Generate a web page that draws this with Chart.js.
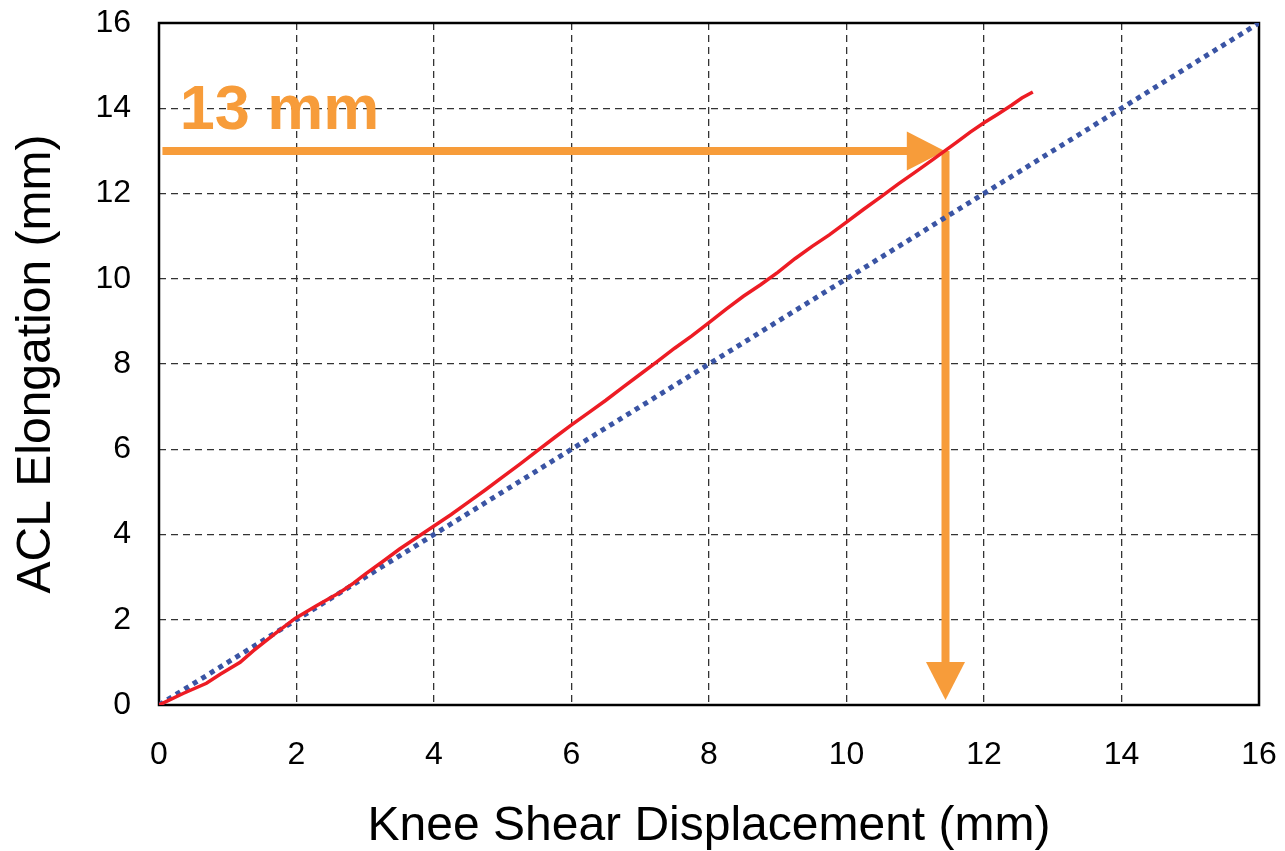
<!DOCTYPE html>
<html>
<head>
<meta charset="utf-8">
<script src="https://cdn.jsdelivr.net/npm/chart.js@4.4.1/dist/chart.umd.min.js"></script>
<style>
  html, body { margin: 0; padding: 0; background: #fff; }
  #wrap { width: 1285px; height: 851px; }
</style>
</head>
<body>
<div id="wrap"><canvas id="aclChart"></canvas></div>
<script>
const shearX = [0, 0.35, 0.69, 0.89, 1.18, 1.37, 1.66, 1.98, 2.29, 2.63, 2.83, 3.0, 3.25, 3.5, 3.75, 4.0, 4.25, 4.5, 4.75, 5.0, 5.25, 5.5, 5.75, 6.0, 6.25, 6.5, 6.75, 7.0, 7.25, 7.5, 7.75, 8.0, 8.25, 8.5, 8.75, 9.0, 9.25, 9.5, 9.75, 10.0, 10.25, 10.5, 10.75, 11.0, 11.25, 11.43, 11.6, 11.8, 12.0, 12.2, 12.4, 12.55, 12.71];
const elongY = [0, 0.27, 0.51, 0.72, 1.0, 1.27, 1.64, 2.03, 2.33, 2.64, 2.86, 3.07, 3.36, 3.66, 3.93, 4.2, 4.47, 4.76, 5.05, 5.35, 5.65, 5.96, 6.27, 6.57, 6.86, 7.15, 7.46, 7.76, 8.06, 8.37, 8.66, 8.97, 9.29, 9.59, 9.86, 10.15, 10.47, 10.76, 11.03, 11.33, 11.63, 11.92, 12.22, 12.5, 12.79, 13.0, 13.2, 13.44, 13.66, 13.86, 14.07, 14.24, 14.38];

// 1:1 reference line
const unityX = [0, 16];
const unityY = [0, 16];

// annotation arrows (data units)
const arrowHX = [0.05, 11.43];
const arrowHY = [13, 13];
const arrowVX = [11.44, 11.44];
const arrowVY = [13, 0.12];
const noteText = '13 mm';
const notePos = [0.3, 13.51];

const FONT = '"Liberation Sans", Arial, sans-serif';
const ORANGE = '#f79c3a';

function toPoints(xs, ys) {
    return xs.map((v, i) => ({ x: v, y: ys[i] }));
}

function drawArrow(ctx, x1, y1, x2, y2) {
    const ang = Math.atan2(y2 - y1, x2 - x1);
    const headLen = 38, headW = 39;
    const bx = x2 - headLen * Math.cos(ang);
    const by = y2 - headLen * Math.sin(ang);
    ctx.lineWidth = 8;
    ctx.beginPath();
    ctx.moveTo(x1, y1);
    ctx.lineTo(bx + Math.cos(ang), by + Math.sin(ang));
    ctx.stroke();
    ctx.beginPath();
    ctx.moveTo(x2, y2);
    ctx.lineTo(bx + headW / 2 * Math.sin(ang), by - headW / 2 * Math.cos(ang));
    ctx.lineTo(bx - headW / 2 * Math.sin(ang), by + headW / 2 * Math.cos(ang));
    ctx.closePath();
    ctx.fill();
}

// frame + arrows + note, drawn under the data lines
const annotationPlugin = {
    id: 'annotations',
    beforeDatasetsDraw(chart) {
        const { ctx, chartArea: a, scales: { x, y } } = chart;
        ctx.save();
        ctx.strokeStyle = '#000';
        ctx.lineWidth = 2.5;
        ctx.strokeRect(a.left, a.top, a.right - a.left, a.bottom - a.top);

        ctx.strokeStyle = ORANGE;
        ctx.fillStyle = ORANGE;
        ctx.lineCap = 'butt';
        drawArrow(ctx, x.getPixelForValue(arrowHX[0]), y.getPixelForValue(arrowHY[0]),
            x.getPixelForValue(arrowHX[1]), y.getPixelForValue(arrowHY[1]));
        drawArrow(ctx, x.getPixelForValue(arrowVX[0]), y.getPixelForValue(arrowVY[0]),
            x.getPixelForValue(arrowVX[1]), y.getPixelForValue(arrowVY[1]));

        ctx.font = 'bold 63px ' + FONT;
        ctx.textAlign = 'left';
        ctx.textBaseline = 'alphabetic';
        ctx.fillText(noteText, x.getPixelForValue(notePos[0]), y.getPixelForValue(notePos[1]));
        ctx.restore();
    }
};

const ctx = document.getElementById('aclChart').getContext('2d');
new Chart(ctx, {
    type: 'scatter',
    data: {
        datasets: [{
            label: 'ACL elongation',
            data: toPoints(shearX, elongY),
            showLine: true,
            borderColor: '#ed1c24',
            borderWidth: 3.5,
            pointRadius: 0,
            tension: 0
        }, {
            label: '1:1',
            data: toPoints(unityX, unityY),
            showLine: true,
            borderColor: '#3a54a4',
            borderWidth: 5,
            borderDash: [5, 5],
            borderCapStyle: 'butt',
            pointRadius: 0
        }]
    },
    options: {
        responsive: true,
        maintainAspectRatio: false,
        animation: false,
        layout: { padding: { top: 23, right: 26, left: 0, bottom: 0 } },
        plugins: {
            legend: { display: false },
            tooltip: { enabled: false }
        },
        scales: {
            x: {
                type: 'linear',
                min: 0,
                max: 16,
                afterFit: function (scale) {
                    scale.height = 146;
                    // tick padding gets added to the edge padding, drop it
                    scale.paddingLeft = 0;
                    scale.paddingRight = 0;
                },
                ticks: { stepSize: 2, padding: 31, color: '#000', maxRotation: 0, font: { family: FONT, size: 32 } },
                grid: { color: '#333', lineWidth: 1.3, drawTicks: false },
                border: { display: false, dash: [7, 5] },
                title: {
                    display: true,
                    text: 'Knee Shear Displacement (mm)',
                    color: '#000',
                    font: { family: FONT, size: 48, lineHeight: 1 },
                    padding: 0
                }
            },
            y: {
                min: 0,
                max: 16,
                afterFit: function (scale) {
                    scale.width = 159;
                    scale.paddingTop = 0;
                    scale.paddingBottom = 0;
                },
                ticks: { stepSize: 2, padding: 28, color: '#000', font: { family: FONT, size: 32 } },
                grid: { color: '#333', lineWidth: 1.3, drawTicks: false },
                border: { display: false, dash: [7, 5] },
                title: {
                    display: true,
                    text: 'ACL Elongation (mm)',
                    color: '#000',
                    font: { family: FONT, size: 48, lineHeight: 1 },
                    padding: { top: 13, bottom: 0 }
                }
            }
        }
    },
    plugins: [annotationPlugin]
});
</script>
</body>
</html>
